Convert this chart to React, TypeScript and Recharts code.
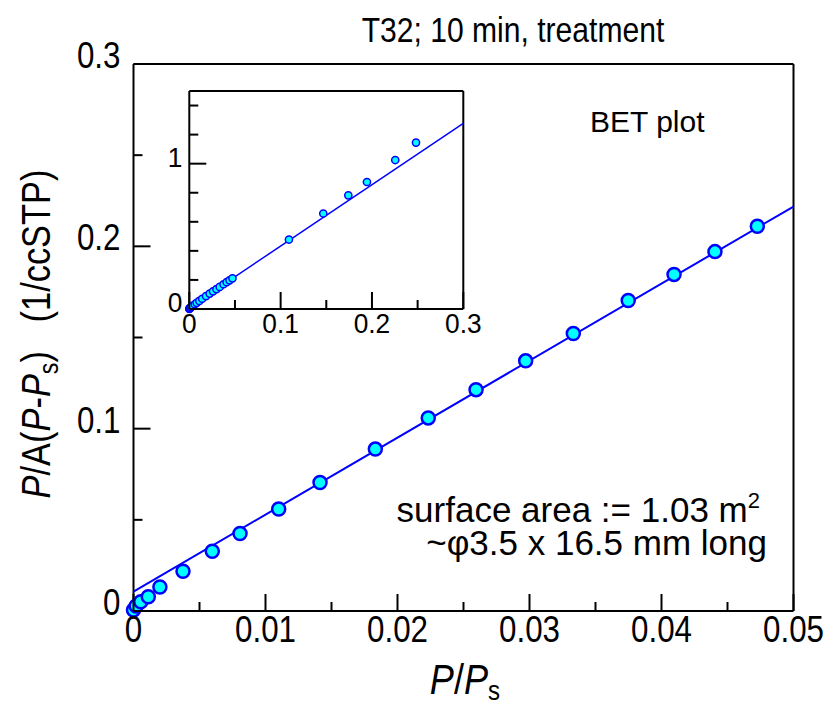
import { Scatter, ScatterChart, XAxis, YAxis } from "recharts";

const FONT = "'Liberation Sans', Arial, sans-serif";
const BLUE = "#0000ff";
const CYAN = "#00ffff";

// main BET points, P/Ps vs P/A(P-Ps)
const mainX = [
  0.0, 0.0002, 0.00055, 0.00112, 0.002, 0.00375, 0.00597, 0.00807, 0.011,
  0.01413, 0.01832, 0.02233, 0.02595, 0.02971, 0.03332, 0.03748, 0.04095,
  0.04405, 0.04726,
];
const mainY = [
  0.0005, 0.0027, 0.0051, 0.0078, 0.0132, 0.0218, 0.0328, 0.0425, 0.0559,
  0.0705, 0.0888, 0.1059, 0.1214, 0.1372, 0.1522, 0.1703, 0.1846, 0.1971,
  0.211,
];

// higher pressure points, only in the inset
const extraX = [0.1091, 0.1467, 0.1741, 0.1945, 0.2255, 0.2482];
const extraY = [0.478, 0.657, 0.782, 0.874, 1.025, 1.145];

// linear fit (ends)
const mainFitX = [0, 0.05];
const mainFitY = [0.0106, 0.2218];
const insetFitX = [0, 0.3];
const insetFitY = [0.0106, 1.278];

const mainXTicks = [0, 0.005, 0.01, 0.015, 0.02, 0.025, 0.03, 0.035, 0.04, 0.045, 0.05];
const mainXMajor = [0, 0.01, 0.02, 0.03, 0.04, 0.05];
const mainYTicks = [0, 0.05, 0.1, 0.15, 0.2, 0.25, 0.3];
const mainYMajor = [0, 0.1, 0.2, 0.3];
const insetXTicks = [0, 0.05, 0.1, 0.15, 0.2, 0.25, 0.3];
const insetXMajor = [0, 0.1, 0.2, 0.3];
const insetYTicks = [0, 0.2, 0.4, 0.6, 0.8, 1, 1.2, 1.4];
const insetYMajor = [0, 1];

const zip = (xs: number[], ys: number[]) => xs.map((x, i) => ({ x, y: ys[i] }));

const mainPoints = zip(mainX, mainY);
const insetPoints = [...mainPoints, ...zip(extraX, extraY)];
const mainFit = zip(mainFitX, mainFitY);
const insetFit = zip(insetFitX, insetFitY);

const fmt = (v: number) => String(Number(v.toFixed(3)));

// the original uses a tall narrow face, so squeeze Liberation Sans a little
function NarrowText({
  x,
  y,
  size,
  sx = 0.9,
  anchor = "start",
  rotate = 0,
  children,
}: {
  x: number;
  y: number;
  size: number;
  sx?: number;
  anchor?: "start" | "middle" | "end";
  rotate?: number;
  children: any;
}) {
  return (
    <text
      transform={`translate(${x},${y}) rotate(${rotate}) scale(${sx},1)`}
      textAnchor={anchor}
      fontSize={size}
      fontFamily={FONT}
      fill="#000"
    >
      {children}
    </text>
  );
}

type Side = "left" | "right" | "top" | "bottom";

function makeTick(side: Side, majors: number[], labels: boolean, inset: boolean) {
  return (props: any) => {
    const { x, y, payload } = props;
    const v = payload.value as number;
    const major = majors.some((m) => Math.abs(m - v) < 1e-9);
    const len = major ? 17 : 9;
    let x2 = x;
    let y2 = y;
    if (side === "left") x2 = x + len;
    if (side === "right") x2 = x - len;
    if (side === "bottom") y2 = y - len;
    if (side === "top") y2 = y + len;
    const showLabel = labels && major;
    const size = inset ? 28 : 36;
    const sx = inset ? 0.94 : 0.87;
    return (
      <g>
        <line x1={x} y1={y} x2={x2} y2={y2} stroke="#000" strokeWidth={2} />
        {showLabel && side === "left" && (
          <NarrowText x={x - (inset ? 7 : 13)} y={y + (inset ? 3 : 4)} size={size} sx={sx} anchor="end">
            {fmt(v)}
          </NarrowText>
        )}
        {showLabel && side === "bottom" && (
          <NarrowText x={x} y={y + (inset ? 24 : 31)} size={size} sx={sx} anchor="middle">
            {fmt(v)}
          </NarrowText>
        )}
      </g>
    );
  };
}

const noShape = () => <g />;

function Dot(r: number, sw: number) {
  return (props: any) => (
    <circle cx={props.cx} cy={props.cy} r={r} fill={CYAN} stroke={BLUE} strokeWidth={sw} />
  );
}

const axisCommon = {
  type: "number" as const,
  interval: 0 as const,
  tickSize: 0,
  tickMargin: 0,
  tickLine: false,
  axisLine: { stroke: "#000", strokeWidth: 2 },
};

// each axis gets 1px of room; margins below put the plot edges in place
export default function App() {
  return (
    <div style={{ position: "absolute", left: 0, top: 0, width: 824, height: 707, background: "#fff" }}>
      <div style={{ position: "absolute", left: 0, top: 0 }}>
        <ScatterChart
          width={824}
          height={707}
          margin={{ left: 132.5, right: 29.5, top: 63, bottom: 95 }}
        >
          <XAxis
            {...axisCommon}
            dataKey="x"
            domain={[0, 0.05]}
            ticks={mainXTicks}
            height={1}
            tick={makeTick("bottom", mainXMajor, true, false)}
          />
          <XAxis
            {...axisCommon}
            xAxisId="top"
            orientation="top"
            dataKey="x"
            domain={[0, 0.05]}
            ticks={mainXTicks}
            height={1}
            tick={makeTick("top", mainXMajor, false, false)}
          />
          <YAxis
            {...axisCommon}
            dataKey="y"
            domain={[0, 0.3]}
            ticks={mainYTicks}
            width={1}
            tick={makeTick("left", mainYMajor, true, false)}
          />
          <YAxis
            {...axisCommon}
            yAxisId="right"
            orientation="right"
            dataKey="y"
            domain={[0, 0.3]}
            ticks={mainYTicks}
            width={1}
            tick={makeTick("right", mainYMajor, false, false)}
          />
          <Scatter
            data={mainFit}
            line={{ stroke: BLUE, strokeWidth: 2 }}
            shape={noShape}
            isAnimationActive={false}
          />
          <Scatter data={mainPoints} shape={Dot(6.5, 2.5)} isAnimationActive={false} />
        </ScatterChart>
      </div>

      <div style={{ position: "absolute", left: 0, top: 0 }}>
        <ScatterChart
          width={824}
          height={707}
          margin={{ left: 188.3, right: 359.7, top: 90, bottom: 397 }}
        >
          <XAxis
            {...axisCommon}
            dataKey="x"
            domain={[0, 0.3]}
            ticks={insetXTicks}
            height={1}
            tick={makeTick("bottom", insetXMajor, true, true)}
          />
          <XAxis
            {...axisCommon}
            xAxisId="top"
            orientation="top"
            dataKey="x"
            domain={[0, 0.3]}
            ticks={insetXTicks}
            height={1}
            tick={makeTick("top", insetXMajor, false, true)}
          />
          <YAxis
            {...axisCommon}
            dataKey="y"
            domain={[0, 1.5]}
            ticks={insetYTicks}
            width={1}
            tick={makeTick("left", insetYMajor, true, true)}
          />
          <YAxis
            {...axisCommon}
            yAxisId="right"
            orientation="right"
            dataKey="y"
            domain={[0, 1.5]}
            ticks={insetYTicks}
            width={1}
            tick={makeTick("right", insetYMajor, false, true)}
          />
          <Scatter
            data={insetFit}
            line={{ stroke: BLUE, strokeWidth: 1.5 }}
            shape={noShape}
            isAnimationActive={false}
          />
          <Scatter data={insetPoints} shape={Dot(3.6, 1.5)} isAnimationActive={false} />
        </ScatterChart>
      </div>

      <svg
        width={824}
        height={707}
        style={{ position: "absolute", left: 0, top: 0, pointerEvents: "none" }}
      >
        <NarrowText x={513} y={42} size={35} sx={0.86} anchor="middle">
          T32; 10 min, treatment
        </NarrowText>
        <NarrowText x={590} y={132} size={30} sx={1}>
          BET plot
        </NarrowText>
        <NarrowText x={760} y={522} size={35} sx={1} anchor="end">
          surface area := 1.03 m
          <tspan fontSize={22} dy={-14}>2</tspan>
        </NarrowText>
        <NarrowText x={767} y={555} size={35} sx={1} anchor="end">
          ~φ3.5 x 16.5 mm long
        </NarrowText>
        <NarrowText x={465} y={694} size={42} sx={0.86} anchor="middle">
          <tspan fontStyle="italic">P</tspan>/<tspan fontStyle="italic">P</tspan>
          <tspan fontSize={28} dy={6}>s</tspan>
        </NarrowText>
        <NarrowText x={50} y={334} size={40} sx={0.86} anchor="middle" rotate={-90}>
          <tspan fontStyle="italic">P</tspan>/A(<tspan fontStyle="italic">P</tspan>-
          <tspan fontStyle="italic">P</tspan>
          <tspan fontSize={27} dy={8}>s</tspan>
          <tspan dy={-8}>{")\u00a0\u00a0 (1/ccSTP)"}</tspan>
        </NarrowText>
      </svg>
    </div>
  );
}
